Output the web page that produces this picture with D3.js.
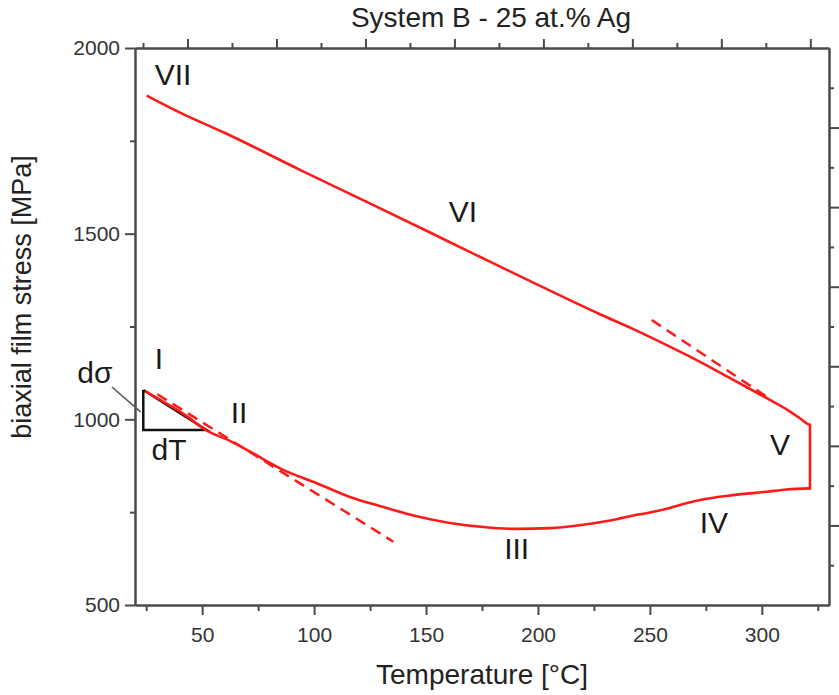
<!DOCTYPE html>
<html>
<head>
<meta charset="utf-8">
<script src="https://cdn.jsdelivr.net/npm/d3@7"></script>
<style>
  html, body { margin: 0; padding: 0; background: #fff; }
  svg { display: block; }
  text { font-family: "Liberation Sans", Arial, sans-serif; }
</style>
</head>
<body>
<svg id="chart" width="839" height="695"></svg>
<script>
// ---------- data ----------
const title = "System B - 25 at.% Ag";
const xLabel = "Temperature [°C]";
const yLabel = "biaxial film stress [MPa]";

const xDomain = [20, 330];
const yDomain = [500, 2000];
const xMajorTicks = [50, 100, 150, 200, 250, 300];
const xMinorTicks = [25, 75, 125, 175, 225, 275, 325];
const yMajorTicks = [500, 1000, 1500, 2000];
const yMinorTicks = [750, 1250, 1750];
// unlabeled secondary axes (top and right)
const topDomain = [-0.18, 15.42];
const topTicks = [0, 1, 2, 3, 4, 5, 6, 7, 8, 9, 10, 11, 12, 13, 14, 15];
const rightDomain = [0, 14];
const rightTicks = [1, 2, 3, 4, 5, 6, 7, 8, 9, 10, 11, 12, 13];

// heating branch (I -> II -> III -> IV), temperature °C
const heatT = [24.5, 33.4, 42.3, 51.7, 62.4, 71.4, 86.2, 101.2, 116.0, 130.9, 145.8, 160.7, 175.6, 190.5, 205.4, 220.2, 227.7, 235.2, 242.6, 250.0, 257.5, 264.9, 272.4, 287.2, 302.2, 311.1, 321.5];
// heating branch stress, MPa
const heatS = [1076, 1045, 1012, 971, 942, 913, 864, 828, 791, 764, 739, 721, 710, 705, 707, 716, 723, 731, 741, 749, 759, 772, 783, 796, 805, 811, 814];
// hold / jump at max temperature (V)
const holdT = [321.5, 321.5];
const holdS = [814, 985];
// cooling branch (V -> VI -> VII)
const coolT = [321.5, 320.0, 317.0, 312.6, 302.2, 287.3, 272.4, 257.5, 242.6, 227.7, 194.2, 160.7, 127.2, 93.7, 60.2, 40.1, 25.2];
const coolS = [985, 989, 1003, 1021, 1057, 1106, 1155, 1200, 1243, 1283, 1379, 1477, 1575, 1672, 1771, 1826, 1872];

// dashed tangent lines
const tangentUpperT = [250.8, 304.4];
const tangentUpperS = [1267.5, 1052];
const tangentLowerT = [30.0, 135.4];
const tangentLowerS = [1067.5, 670.5];

// slope triangle dσ/dT
const triT = [23.7, 23.7, 52.0, 23.7];
const triS = [1079, 971.3, 971.3, 1079];
// leader line from the dσ label
const leaderT = [9.7, 22.5];
const leaderS = [1087, 1020];

// stage labels
const labelText = ["VII", "VI", "V", "IV", "III", "II", "I", "dσ", "dT"];
const labelT = [37.0, 166.5, 308.1, 278.6, 190.5, 66.5, 30.7, 2.1, 35.2];
const labelS = [1900, 1531, 904, 694, 624, 990, 1135, 1098, 890];

// ---------- layout ----------
const svg = d3.select("#chart");
const L = 135, R = 829, T = 48, B = 605;
const axisColor = "#4a4a4a";

const x = d3.scaleLinear().domain(xDomain).range([L, R]);
const y = d3.scaleLinear().domain(yDomain).range([B, T]);
const xTop = d3.scaleLinear().domain(topDomain).range([L, R]);
const yRight = d3.scaleLinear().domain(rightDomain).range([B, T]);
const fmt = d3.format("d");

function styleAxis(g) {
  g.select(".domain").attr("stroke", axisColor).attr("stroke-width", 2);
  g.selectAll(".tick line").attr("stroke", axisColor).attr("stroke-width", 2);
  g.selectAll(".tick text").attr("fill", "#333").style("font-size", "21px")
    .style("font-family", "'Liberation Sans', Arial, sans-serif");
}

// minor ticks first
svg.append("g").attr("transform", `translate(0,${B})`)
  .call(d3.axisBottom(x).tickValues(xMinorTicks).tickSize(6).tickSizeOuter(0).tickFormat(""))
  .call(styleAxis);
svg.append("g").attr("transform", `translate(0,${B})`)
  .call(d3.axisBottom(x).tickValues(xMajorTicks).tickSize(10).tickSizeOuter(0).tickPadding(12).tickFormat(fmt))
  .call(styleAxis);

svg.append("g").attr("transform", `translate(${L},0)`)
  .call(d3.axisLeft(y).tickValues(yMinorTicks).tickSize(5).tickSizeOuter(0).tickFormat(""))
  .call(styleAxis);
svg.append("g").attr("transform", `translate(${L},0)`)
  .call(d3.axisLeft(y).tickValues(yMajorTicks).tickSize(10).tickSizeOuter(0).tickPadding(5).tickFormat(fmt))
  .call(styleAxis);

svg.append("g").attr("transform", `translate(0,${T})`)
  .call(d3.axisTop(xTop).tickValues(topTicks.filter(v => v % 2 === 0)).tickSize(5).tickSizeOuter(0).tickFormat(""))
  .call(styleAxis);
svg.append("g").attr("transform", `translate(0,${T})`)
  .call(d3.axisTop(xTop).tickValues(topTicks.filter(v => v % 2 === 1)).tickSize(9).tickSizeOuter(0).tickFormat(""))
  .call(styleAxis);

svg.append("g").attr("transform", `translate(${R},0)`)
  .call(d3.axisRight(yRight).tickValues(rightTicks.filter(v => v % 2 === 1)).tickSize(5).tickSizeOuter(0).tickFormat(""))
  .call(styleAxis);
svg.append("g").attr("transform", `translate(${R},0)`)
  .call(d3.axisRight(yRight).tickValues(rightTicks.filter(v => v % 2 === 0)).tickSize(10).tickSizeOuter(0).tickFormat(""))
  .call(styleAxis);

// ---------- curves ----------
const line = d3.line().x(d => x(d[0])).y(d => y(d[1]));
const smooth = d3.line().x(d => x(d[0])).y(d => y(d[1])).curve(d3.curveMonotoneX);
const zip = (a, b) => a.map((v, i) => [v, b[i]]);

const red = "#ff1a1a";
svg.append("path").attr("d", line(zip(tangentLowerT, tangentLowerS)))
  .attr("fill", "none").attr("stroke", red).attr("stroke-width", 2.5).attr("stroke-dasharray", "11,7");
svg.append("path").attr("d", line(zip(tangentUpperT, tangentUpperS)))
  .attr("fill", "none").attr("stroke", red).attr("stroke-width", 2.5).attr("stroke-dasharray", "11,7");

svg.append("path").attr("d", line(zip(triT, triS)))
  .attr("fill", "none").attr("stroke", "#111").attr("stroke-width", 2.5).attr("stroke-linejoin", "miter");
svg.append("path").attr("d", line(zip(leaderT, leaderS)))
  .attr("fill", "none").attr("stroke", "#555").attr("stroke-width", 1.5);

svg.append("path").attr("d", smooth(zip(heatT, heatS)))
  .attr("fill", "none").attr("stroke", red).attr("stroke-width", 2.6).attr("stroke-linejoin", "round");
svg.append("path").attr("d", line(zip(holdT, holdS)))
  .attr("fill", "none").attr("stroke", red).attr("stroke-width", 2.6).attr("stroke-linecap", "square");
svg.append("path").attr("d", smooth(zip(coolT, coolS)))
  .attr("fill", "none").attr("stroke", red).attr("stroke-width", 2.6).attr("stroke-linejoin", "round");

// ---------- text ----------
labelText.forEach((t, i) => {
  svg.append("text").attr("x", x(labelT[i])).attr("y", y(labelS[i]))
    .attr("text-anchor", "middle").attr("fill", "#1a1a1a").style("font-size", "30px").text(t);
});

svg.append("text").attr("x", 491).attr("y", 27).attr("text-anchor", "middle")
  .attr("fill", "#222").style("font-size", "28px").text(title);
svg.append("text").attr("x", 482).attr("y", 684).attr("text-anchor", "middle")
  .attr("fill", "#222").style("font-size", "28px").text(xLabel);
svg.append("text").attr("transform", "translate(31,297) rotate(-90)").attr("text-anchor", "middle")
  .attr("fill", "#222").style("font-size", "27px").text(yLabel);
</script>
</body>
</html>
